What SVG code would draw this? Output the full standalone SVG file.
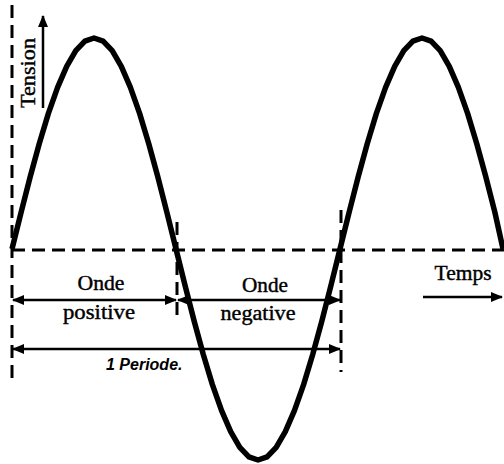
<svg xmlns="http://www.w3.org/2000/svg" width="504" height="464" viewBox="0 0 504 464">
<style>
.dash{fill:none;stroke:#000;stroke-width:3;stroke-dasharray:13 7}
.arr{fill:none;stroke:#000;stroke-width:2.5}
.wave{fill:none;stroke:#000;stroke-width:5.5;stroke-linejoin:round;stroke-linecap:butt}
.lbl{font-family:"Liberation Serif",serif;font-size:20px;fill:#000;stroke:#000;stroke-width:0.4;text-anchor:middle}
.per{font-family:"Liberation Sans",sans-serif;font-size:16px;font-style:italic;font-weight:bold;fill:#000}
</style>
<defs>
<marker id="ah" markerWidth="12" markerHeight="10" refX="11" refY="5" orient="auto-start-reverse" markerUnits="userSpaceOnUse">
<path d="M0,0 L12,5 L0,10 Z" fill="#000"/>
</marker>
</defs>
<rect width="504" height="464" fill="#fff"/>
<g id="axes">
<line class="dash" x1="12" y1="5" x2="12" y2="382"/>
<line class="dash" x1="12" y1="250" x2="504" y2="250"/>
<line class="dash" x1="177" y1="222" x2="177" y2="320"/>
<line class="dash" x1="341" y1="210" x2="341" y2="372"/>
</g>
<g id="wave">
<polyline class="wave" points="12,249 21.1,212.4 30.2,176.8 39.3,143.5 48.4,113.4 57.6,87.4 66.7,66.3 75.8,50.7 84.9,41.2 94,38 103.1,41.2 112.2,50.7 121.3,66.3 130.4,87.4 139.6,113.4 148.7,143.5 157.8,176.8 166.9,212.4 176,249 185.1,285.6 194.2,321.2 203.3,354.5 212.4,384.6 221.6,410.6 230.7,431.7 239.8,447.3 248.9,456.8 258,460 267.1,456.8 276.2,447.3 285.3,431.7 294.4,410.6 303.6,384.6 312.7,354.5 321.8,321.2 330.9,285.6 340,249 349.1,212.4 358.2,176.8 367.3,143.5 376.4,113.4 385.6,87.4 394.7,66.3 403.8,50.7 412.9,41.2 422,38 431.1,41.2 440.2,50.7 449.3,66.3 458.4,87.4 467.6,113.4 476.7,143.5 485.8,176.8 494.9,212.4 503,249"/>
</g>
<g id="connectors">
<line class="arr" x1="43" y1="108" x2="43" y2="16" marker-end="url(#ah)"/>
<line class="arr" x1="13" y1="300" x2="176" y2="300" marker-start="url(#ah)" marker-end="url(#ah)"/>
<line class="arr" x1="178" y1="300" x2="340" y2="300" marker-start="url(#ah)" marker-end="url(#ah)"/>
<line class="arr" x1="13" y1="349" x2="340" y2="349" marker-start="url(#ah)" marker-end="url(#ah)"/>
<line class="arr" x1="423" y1="297" x2="502" y2="297" stroke-width="3" marker-end="url(#ah)"/>
</g>
<g id="labels">
<text class="lbl" transform="translate(35,73) rotate(-90)" textLength="70" lengthAdjust="spacingAndGlyphs">Tension</text>
<text class="lbl" x="101" y="290" textLength="47" lengthAdjust="spacingAndGlyphs">Onde</text>
<text class="lbl" x="99" y="319" textLength="72" lengthAdjust="spacingAndGlyphs">positive</text>
<text class="lbl" x="265" y="292" textLength="46" lengthAdjust="spacingAndGlyphs">Onde</text>
<text class="lbl" x="258" y="320" textLength="75" lengthAdjust="spacingAndGlyphs">negative</text>
<text class="lbl" x="463" y="280" textLength="57" lengthAdjust="spacingAndGlyphs">Temps</text>
<text class="per" x="106" y="370">1 Periode.</text>
</g>
</svg>
